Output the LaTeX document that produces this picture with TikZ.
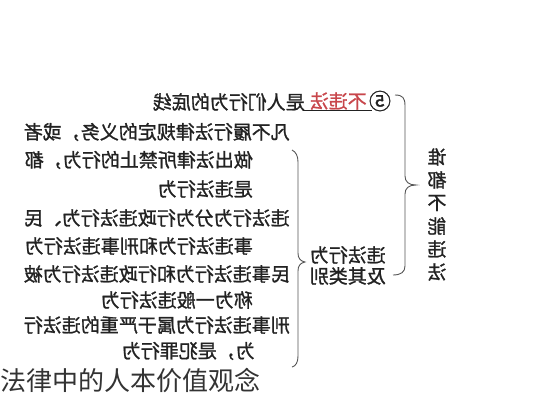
\documentclass[tikz,border=0pt]{standalone}
\usepackage{fontspec}
\usepackage{graphicx}
\newfontfamily\cjk{Noto Sans CJK SC}
\newfontfamily\cjkb[FakeBold=1.2]{Noto Sans CJK SC}
\definecolor{ink}{HTML}{222222}
\definecolor{redtxt}{HTML}{C8464B}
\definecolor{bracecol}{HTML}{555555}
\newcommand{\mir}[1]{\reflectbox{#1}}
\begin{document}
\begin{tikzpicture}[x=1pt,y=-1pt,
  txt/.style={inner sep=0pt,font=\cjkb\fontsize{19}{19}\selectfont,text=ink},
  vtxt/.style={inner sep=0pt,font=\cjkb\fontsize{19}{19}\selectfont,text=ink},
  circtxt/.style={inner sep=0pt,font=\cjkb\fontsize{22}{22}\selectfont,text=ink},
  captxt/.style={inner sep=0pt,font=\cjk\fontsize{26}{26}\selectfont,text=black!80},
  bracel/.style={draw=bracecol,line width=0.9pt}]
\useasboundingbox[fill=white] (0,0) rectangle (533,400);

% line 1
\node[circtxt,anchor=center] (c5) at (380,101) {\mir{⑤}};
\node[txt,anchor=east,text=redtxt] (bwf) at (367,101) {\mir{不违法}};
\node[txt,anchor=east] (l1) at (305,102) {\mir{是人们行为的底线}};
\draw[draw=ink,line width=0.7pt] (303,110.5) -- (372,110.5);

% paragraph lines
\node[txt,anchor=east] (l2) at (290,132) {\mir{凡不履行法律规定的义务，或者}};
\node[txt,anchor=east] (l3) at (253,160) {\mir{做出法律所禁止的行为，都}};
\node[txt,anchor=east] (l4) at (253,189) {\mir{是违法行为}};
\node[txt,anchor=east] (l5) at (290,218) {\mir{违法行为分为行政违法行为、民}};
\node[txt,anchor=east] (l6) at (253,246) {\mir{事违法行为和刑事违法行为}};
\node[txt,anchor=east] (l7) at (290,274) {\mir{民事违法行为和行政违法行为被}};
\node[txt,anchor=east] (l8) at (253,300) {\mir{称为一般违法行为}};
\node[txt,anchor=east] (l9) at (290,325) {\mir{刑事违法行为属于严重的违法行}};
\node[txt,anchor=east] (l10) at (255,351) {\mir{为，是犯罪行为}};

% middle label
\node[txt,anchor=east] (m1) at (386,255) {\mir{违法行为}};
\node[txt,anchor=east] (m2) at (386,276) {\mir{及其类别}};

% vertical title
\foreach \c [count=\i] in {谁,都,不,能,违,法}
  \node[vtxt] (v\i) at (437,{157+(\i-1)*23}) {\mir{\c}};

% big brace
\draw[bracel] (395,95) .. controls (403,95) and (405,98) .. (405,106)
  -- (405,176) .. controls (405,182) and (409,185) .. (416,185)
  .. controls (409,185) and (405,188) .. (405,194)
  -- (405,266) .. controls (405,272) and (401,275) .. (393,275);

% small brace
\draw[bracel] (292,150) .. controls (296,152) and (298,156) .. (298,162)
  -- (298,253) .. controls (298,258) and (300,261) .. (305,262)
  .. controls (300,263) and (298,266) .. (298,271)
  -- (298,356) .. controls (298,362) and (296,366) .. (292,367);

% caption
\node[captxt,anchor=west] (capt) at (0,380) {法律中的人本价值观念};
\end{tikzpicture}
\end{document}
